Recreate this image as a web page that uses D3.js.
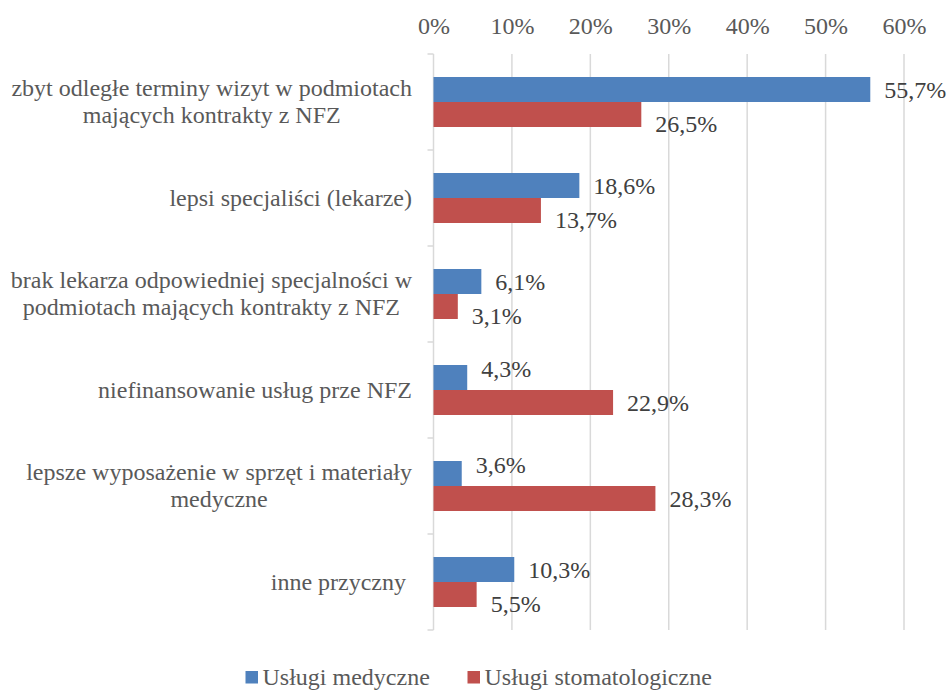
<!DOCTYPE html>
<html>
<head>
<meta charset="utf-8">
<script src="https://cdn.jsdelivr.net/npm/d3@7"></script>
<style>
  html, body { margin: 0; padding: 0; background: #fff; }
  svg { display: block; font-family: "Liberation Serif", "Times New Roman", serif; }
</style>
</head>
<body>
<svg id="chart" width="949" height="691"></svg>
<script>
// Reasons for choosing private care, share of respondents (%)
const categories = [
  "zbyt odległe terminy wizyt w podmiotach\nmających kontrakty z NFZ",
  "lepsi specjaliści (lekarze)",
  "brak lekarza odpowiedniej specjalności w\npodmiotach mających kontrakty z NFZ",
  "niefinansowanie usług prze NFZ",
  "lepsze wyposażenie w sprzęt i materiały\nmedyczne",
  "inne przyczny "
];
const seriesNames = ["Usługi medyczne", "Usługi stomatologiczne"];
const medyczne = [55.7, 18.6, 6.1, 4.3, 3.6, 10.3];
const stomatologiczne = [26.5, 13.7, 3.1, 22.9, 28.3, 5.5];
const tickValues = [0, 10, 20, 30, 40, 50, 60];

const colors = ["#4f81bd", "#c0504d"];
const seriesValues = [medyczne, stomatologiczne];

const plPL = d3.formatLocale({ decimal: ",", thousands: " ", grouping: [3], currency: ["", " zł"] });
const fmtValue = v => plPL.format(".1f")(v) + "%";
const fmtTick = v => v + "%";

const svg = d3.select("#chart");

const x = d3.scaleLinear().domain([0, 60]).range([433.5, 904]);
const y0 = d3.scaleBand().domain(categories).range([54, 630]).padding(0);
const y1 = d3.scaleBand().domain(seriesNames).range([0, y0.bandwidth()])
  .paddingInner(0).paddingOuter(0.92);

// vertical gridlines
svg.append("g")
  .selectAll("line")
  .data(tickValues.slice(1))
  .join("line")
  .attr("x1", d => x(d)).attr("x2", d => x(d))
  .attr("y1", 54).attr("y2", 630)
  .attr("stroke", "#d9d9d9").attr("stroke-width", 1.5);

// top axis labels
const xAxis = d3.axisTop(x).tickValues(tickValues).tickFormat(fmtTick).tickSize(0).tickPadding(0);
const gx = svg.append("g").attr("transform", "translate(0,34)").call(xAxis);
gx.select(".domain").remove();
gx.selectAll("text")
  .attr("font-size", 24)
  .attr("font-family", "Liberation Serif, Times New Roman, serif")
  .attr("fill", "#595959")
  .attr("dy", 0);

// category axis line with ticks between groups
const gy = svg.append("g");
gy.append("line")
  .attr("x1", x(0)).attr("x2", x(0))
  .attr("y1", 54).attr("y2", 630)
  .attr("stroke", "#d9d9d9").attr("stroke-width", 1.5);
const boundaries = categories.map(c => y0(c)).concat([y0(categories[categories.length - 1]) + y0.bandwidth()]);
gy.selectAll("line.tick")
  .data(boundaries)
  .join("line")
  .attr("class", "tick")
  .attr("x1", x(0) - 6).attr("x2", x(0))
  .attr("y1", d => d).attr("y2", d => d)
  .attr("stroke", "#d9d9d9").attr("stroke-width", 1.5);

// category labels, right aligned, lines centred within each block
const lineH = 27;
categories.forEach(cat => {
  const lines = cat.split("\n");
  const cy = y0(cat) + y0.bandwidth() / 2;
  const t = svg.append("text")
    .attr("font-size", 24)
    .attr("fill", "#595959")
    .style("white-space", "pre");
  lines.forEach((ln, i) => {
    t.append("tspan")
      .attr("y", cy + (i - (lines.length - 1) / 2) * lineH)
      .attr("dy", "0.33em")
      .text(ln);
  });
  // measure widest line, then centre each line inside a block whose right edge is fixed
  const spans = t.selectAll("tspan").nodes();
  const widths = spans.map(s => s.getComputedTextLength());
  const maxW = d3.max(widths);
  const right = 412;
  spans.forEach(s => {
    d3.select(s).attr("x", right - maxW / 2).attr("text-anchor", "middle");
  });
});

// bars
const groups = svg.append("g")
  .selectAll("g")
  .data(categories)
  .join("g")
  .attr("transform", d => `translate(0,${y0(d)})`);

seriesNames.forEach((name, si) => {
  groups.append("rect")
    .attr("x", x(0))
    .attr("y", y1(name))
    .attr("width", (d, ci) => x(seriesValues[si][ci]) - x(0))
    .attr("height", y1.bandwidth())
    .attr("fill", colors[si]);
});

// value labels; a label that sits beside the other series' bar is moved clear of it
const labelGap = 14;
const labelHalf = 21.5;
categories.forEach((cat, ci) => {
  seriesNames.forEach((name, si) => {
    const v = seriesValues[si][ci];
    const other = 1 - si;
    const otherEnd = x(seriesValues[other][ci]);
    const lx = x(v) + labelGap;
    let cy = y0(cat) + y1(name) + y1.bandwidth() / 2;
    if (lx < otherEnd) {
      const shift = labelHalf - y1.bandwidth() / 2;
      cy += si === 0 ? -shift : shift;
    }
    svg.append("text")
      .attr("x", lx)
      .attr("y", cy)
      .attr("dy", "0.34em")
      .attr("font-size", 24)
      .attr("fill", "#404040")
      .text(fmtValue(v));
  });
});

// legend
const legendItems = [
  { name: seriesNames[0], color: colors[0], x: 245.5 },
  { name: seriesNames[1], color: colors[1], x: 467.5 }
];
const lg = svg.append("g");
legendItems.forEach(it => {
  lg.append("rect")
    .attr("x", it.x).attr("y", 671)
    .attr("width", 12.5).attr("height", 12.5)
    .attr("fill", it.color);
  lg.append("text")
    .attr("x", it.x + 17).attr("y", 684.5)
    .attr("font-size", 24)
    .attr("fill", "#595959")
    .text(it.name);
});
</script>
</body>
</html>
